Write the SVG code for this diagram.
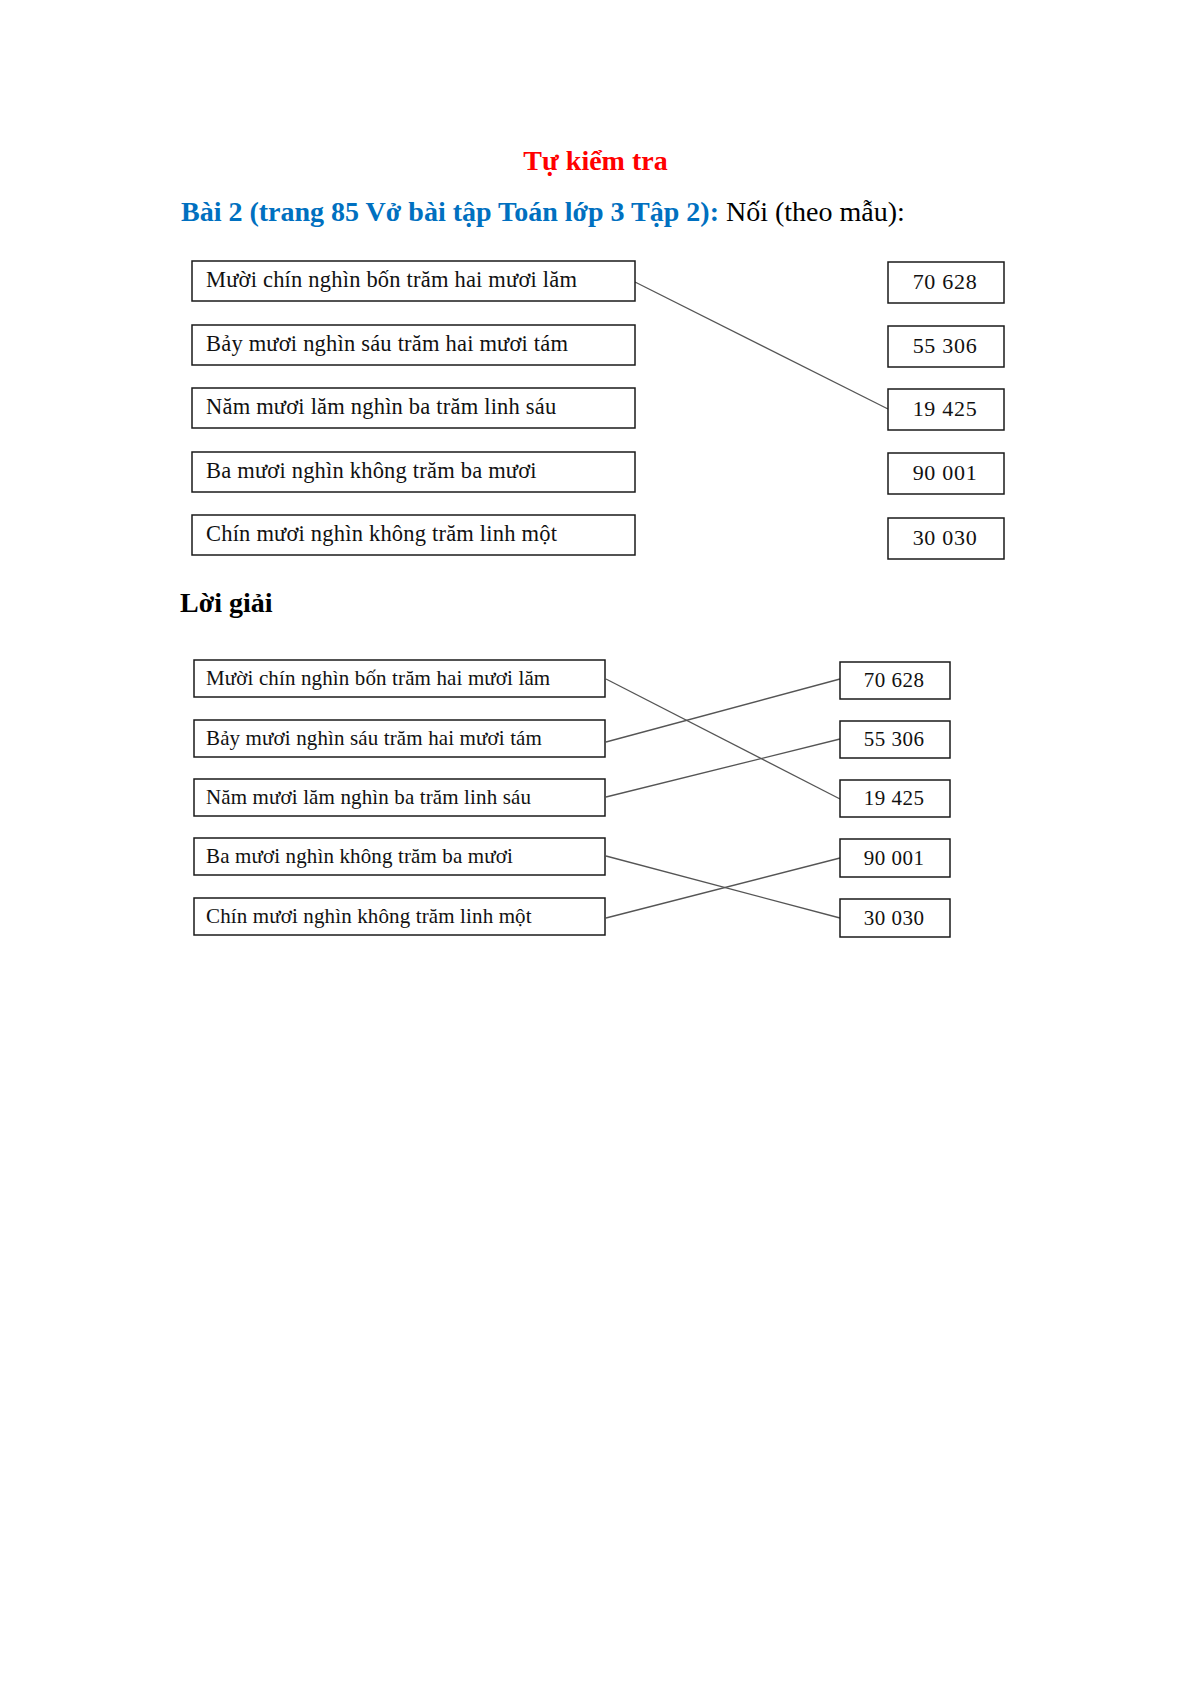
<svg xmlns="http://www.w3.org/2000/svg" width="1191" height="1684" viewBox="0 0 1191 1684">
<style>
.bg{fill:#ffffff}
.box{fill:#ffffff;stroke:#1a1a1a;stroke-width:1.5}
.lt{font-family:"Liberation Serif","Times New Roman",serif;font-size:22.5px;letter-spacing:0.2px;fill:#111}
.lb{font-family:"Liberation Serif","Times New Roman",serif;font-size:21px;letter-spacing:0.13px;fill:#111}
.nt{font-family:"Liberation Serif","Times New Roman",serif;font-size:22px;letter-spacing:0.7px;fill:#111;text-anchor:middle}
.nb{font-family:"Liberation Serif","Times New Roman",serif;font-size:21px;letter-spacing:0.5px;fill:#111;text-anchor:middle}
.con{stroke:#555;stroke-width:1.3;fill:none}
.h{font-family:"Liberation Serif","Times New Roman",serif;font-size:28px}
</style>
<rect class="bg" x="0" y="0" width="1191" height="1684"/>
<g id="heading">
<text class="h" x="595.5" y="170" text-anchor="middle" font-weight="bold" fill="#ff0000">Tự kiểm tra</text>
<text class="h" x="181" y="221"><tspan font-weight="bold" fill="#0070c0">Bài 2 (trang 85 Vở bài tập Toán lớp 3 Tập 2):</tspan><tspan fill="#000"> Nối (theo mẫu):</tspan></text>
<text class="h" x="180" y="612" font-weight="bold" fill="#000">Lời giải</text>
</g>
<g id="connectors">
<line class="con" x1="635" y1="282" x2="888" y2="409"/>
<line class="con" x1="606" y1="679" x2="840" y2="799"/>
<line class="con" x1="606" y1="742" x2="840" y2="679"/>
<line class="con" x1="606" y1="797" x2="840" y2="739"/>
<line class="con" x1="606" y1="856" x2="840" y2="918"/>
<line class="con" x1="606" y1="918" x2="840" y2="858"/>
</g>
<g id="q-left-1"><rect class="box" x="192" y="261" width="443" height="40"/><text class="lt" x="206" y="287">Mười chín nghìn bốn trăm hai mươi lăm</text></g>
<g id="q-left-2"><rect class="box" x="192" y="325" width="443" height="40"/><text class="lt" x="206" y="351">Bảy mươi nghìn sáu trăm hai mươi tám</text></g>
<g id="q-left-3"><rect class="box" x="192" y="388" width="443" height="40"/><text class="lt" x="206" y="414">Năm mươi lăm nghìn ba trăm linh sáu</text></g>
<g id="q-left-4"><rect class="box" x="192" y="452" width="443" height="40"/><text class="lt" x="206" y="478">Ba mươi nghìn không trăm ba mươi</text></g>
<g id="q-left-5"><rect class="box" x="192" y="515" width="443" height="40"/><text class="lt" x="206" y="541">Chín mươi nghìn không trăm linh một</text></g>
<g id="q-right-1"><rect class="box" x="888" y="262" width="116" height="41"/><text class="nt" x="945" y="289">70 628</text></g>
<g id="q-right-2"><rect class="box" x="888" y="326" width="116" height="41"/><text class="nt" x="945" y="353">55 306</text></g>
<g id="q-right-3"><rect class="box" x="888" y="389" width="116" height="41"/><text class="nt" x="945" y="416">19 425</text></g>
<g id="q-right-4"><rect class="box" x="888" y="453" width="116" height="41"/><text class="nt" x="945" y="480">90 001</text></g>
<g id="q-right-5"><rect class="box" x="888" y="518" width="116" height="41"/><text class="nt" x="945" y="545">30 030</text></g>
<g id="a-left-1"><rect class="box" x="194" y="660" width="411" height="37"/><text class="lb" x="206" y="685">Mười chín nghìn bốn trăm hai mươi lăm</text></g>
<g id="a-left-2"><rect class="box" x="194" y="720" width="411" height="37"/><text class="lb" x="206" y="745">Bảy mươi nghìn sáu trăm hai mươi tám</text></g>
<g id="a-left-3"><rect class="box" x="194" y="779" width="411" height="37"/><text class="lb" x="206" y="804">Năm mươi lăm nghìn ba trăm linh sáu</text></g>
<g id="a-left-4"><rect class="box" x="194" y="838" width="411" height="37"/><text class="lb" x="206" y="863">Ba mươi nghìn không trăm ba mươi</text></g>
<g id="a-left-5"><rect class="box" x="194" y="898" width="411" height="37"/><text class="lb" x="206" y="923">Chín mươi nghìn không trăm linh một</text></g>
<g id="a-right-1"><rect class="box" x="840" y="662" width="110" height="37"/><text class="nb" x="894" y="687">70 628</text></g>
<g id="a-right-2"><rect class="box" x="840" y="721" width="110" height="37"/><text class="nb" x="894" y="746">55 306</text></g>
<g id="a-right-3"><rect class="box" x="840" y="780" width="110" height="37"/><text class="nb" x="894" y="805">19 425</text></g>
<g id="a-right-4"><rect class="box" x="840" y="839" width="110" height="38"/><text class="nb" x="894" y="865">90 001</text></g>
<g id="a-right-5"><rect class="box" x="840" y="899" width="110" height="38"/><text class="nb" x="894" y="925">30 030</text></g>
</svg>
